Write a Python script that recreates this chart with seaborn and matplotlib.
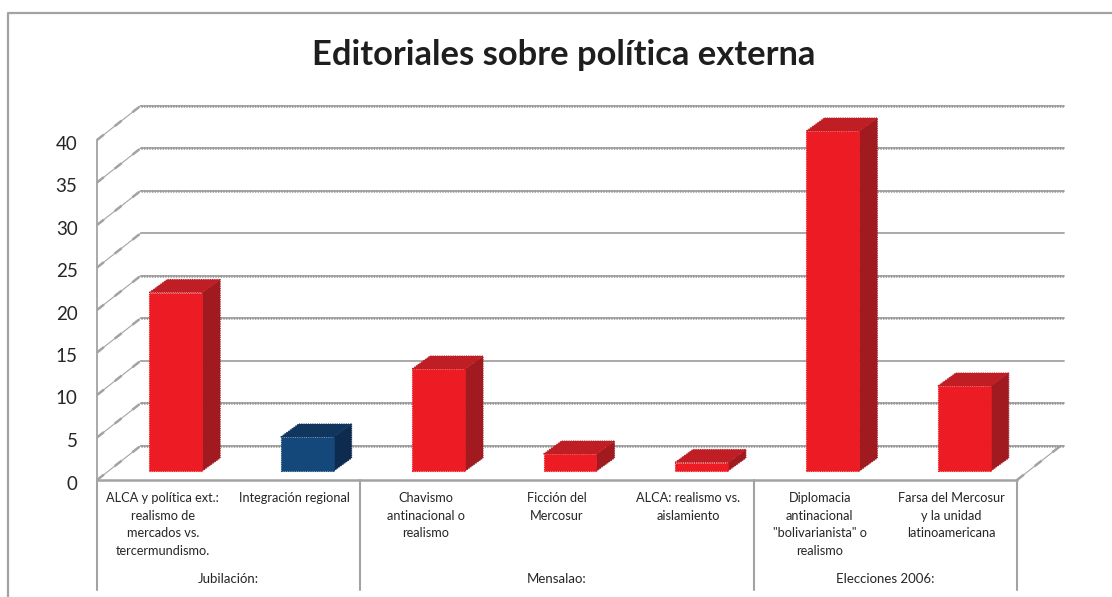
import matplotlib
matplotlib.use("Agg")
import matplotlib.pyplot as plt
from matplotlib.patches import Polygon
from matplotlib.transforms import Affine2D, IdentityTransform
import pandas as pd
import seaborn as sns

temas = [
    "ALCA y política ext.:\nrealismo de\nmercados vs.\ntercermundismo.",
    "Integración regional",
    "Chavismo\nantinacional o\nrealismo",
    "Ficción del\nMercosur",
    "ALCA: realismo vs.\naislamiento",
    "Diplomacia\nantinacional\n\"bolivarianista\" o\nrealismo",
    "Farsa del Mercosur\ny la unidad\nlatinoamericana",
]
editoriales = [21, 4, 12, 2, 1, 40, 10]
periodos = ["Jubilación:", "Jubilación:", "Mensalao:", "Mensalao:", "Mensalao:",
            "Elecciones 2006:", "Elecciones 2006:"]
colores = ["rojo", "azul", "rojo", "rojo", "rojo", "rojo", "rojo"]
titulo = "Editoriales sobre política externa"
niveles = [0, 5, 10, 15, 20, 25, 30, 35, 40]
niveles_lisos = [10, 25]

FRENTE = {"rojo": "#ED1C24", "azul": "#14477A"}
TAPA = {"rojo": "#BE1E24", "azul": "#11365E"}
LADO = {"rojo": "#A01A20", "azul": "#0D2B4E"}
GRIS = "#A3A3A3"
TEXTO = "#262626"

W, H = 1112, 597
sns.set_theme(style="white")
plt.rcParams["font.family"] = ["Lato", "DejaVu Sans"]

fig = plt.figure(figsize=(W / 100, H / 100), dpi=100, facecolor="white")
# Front plane of the simulated 3D box, in pixel extents
ax = fig.add_axes([97 / W, (H - 480) / H, 920 / W, 340 / H])

datos = pd.DataFrame({"tema": temas, "n": editoriales, "color": colores})
sns.barplot(data=datos, x="tema", y="n", hue="color", palette=FRENTE, dodge=False,
            width=0.403, legend=False, ax=ax, zorder=5)
ax.set_xlim(-0.5, 6.5)
ax.set_ylim(0, 40)
ax.set_xlabel("")
ax.set_ylabel("")
sns.despine(ax=ax, left=True, bottom=True, top=True, right=True)
ax.patch.set_alpha(0)

# Depth offsets in pixels: back wall and the plane the bars stand on
fondo = Affine2D().translate(44, 34.5)
plano = Affine2D().translate(13, 9)
prof = (18, 13)

# Back wall gridlines and the side-wall diagonals
x0, x1 = ax.get_xlim()
for v in niveles:
    ax.plot([x0, x1 + 0.02], [v, v], color=GRIS, lw=1.3, clip_on=False, zorder=1,
            transform=ax.transData + fondo)
    if v not in niveles_lisos:
        ax.plot([x0, x1 + 0.02], [v, v], color="#999999", lw=1.9, ls=(0, (0.5, 0.5)),
                clip_on=False, zorder=1.1, transform=ax.transData + fondo)
    pa = ax.transData.transform((x0, v))
    pb = fondo.transform(pa)
    for lw, ls in ((0.8, "-"), (1.8, (0, (3.5, 5.5)))):
        ax.plot([pa[0], pb[0]], [pa[1], pb[1]], color=GRIS, lw=lw, ls=ls, clip_on=False,
                zorder=1, transform=IdentityTransform())

pa = ax.transData.transform((x1, 0))
pb = fondo.transform(pa)
for lw, ls in ((0.8, "-"), (1.8, (0, (3.5, 5.5)))):
    ax.plot([pa[0], pb[0]], [pa[1], pb[1]], color=GRIS, lw=lw, ls=ls, clip_on=False,
            zorder=1, transform=IdentityTransform())

# Front axis lines
ax.plot([x0, x0], [0, 40], color=GRIS, lw=1.3, clip_on=False, zorder=2)
ax.plot([x0, x1], [0, 0], color=GRIS, lw=1.8, clip_on=False, zorder=2)

# Shift each bar onto its plane and add the top and side faces
barras = sorted(ax.patches, key=lambda b: b.get_x())
for barra, clave in zip(barras, colores):
    a, b = barra.get_x(), barra.get_x() + barra.get_width()
    alto = barra.get_height()
    p00 = plano.transform(ax.transData.transform((a, 0)))
    p10 = plano.transform(ax.transData.transform((b, 0)))
    p11 = plano.transform(ax.transData.transform((b, alto)))
    p01 = plano.transform(ax.transData.transform((a, alto)))
    barra.set_transform(ax.transData + plano)
    barra.set_clip_on(False)
    barra.set_facecolor(FRENTE[clave])
    barra.set_edgecolor(FRENTE[clave])
    barra.set_linewidth(0.8)
    barra.set_linestyle((0, (1, 1)))
    d = prof
    tapa = [p01, p11, p11 + d, p01 + d]
    lado = [p10, p10 + d, p11 + d, p11]
    for verts, tonos in ((lado, LADO), (tapa, TAPA)):
        ax.add_patch(Polygon(verts, closed=True, facecolor=tonos[clave],
                             edgecolor=tonos[clave], lw=0.8, ls=(0, (1, 1)),
                             transform=IdentityTransform(), clip_on=False, zorder=4))

# Axis tick labels
ax.set_yticks(niveles)
ax.tick_params(axis="y", length=0, pad=14, labelsize=13.5, labelcolor=TEXTO)
for etiqueta in ax.get_yticklabels():
    etiqueta.set_transform(etiqueta.get_transform() + Affine2D().translate(0, -2.5))
ax.set_xticks(range(len(temas)))
ax.set_xticklabels(temas, fontsize=9.2, color=TEXTO, linespacing=1.58, va="top")
ax.tick_params(axis="x", length=0, pad=8.5)

# Group separators and period names under the categories
pos = {}
for i, p in enumerate(periodos):
    pos.setdefault(p, []).append(i)
trans = ax.get_xaxis_transform()
cortes = [x0] + [pos[p][-1] + 0.5 for p in pos]
for c in cortes:
    ax.plot([c, c], [0, -110 / 340], color=GRIS, lw=1.5, clip_on=False, zorder=2, transform=trans)
for p, idx in pos.items():
    ax.text((idx[0] + idx[-1]) / 2, -99 / 340, p, transform=trans, ha="center", va="center",
            fontsize=9.5, color=TEXTO)

# Title and outer chart frame
fig.text(564 / W, (H - 55) / H, titulo, ha="center", va="center", fontsize=24.8,
         fontweight="bold", color="#1E1E1E")
fig.add_artist(plt.Line2D([8 / W, 8 / W, 1], [0, (H - 13) / H, (H - 13) / H],
                          color=GRIS, lw=1.6, transform=fig.transFigure))

fig.savefig("out.png", dpi=100, facecolor="white")
